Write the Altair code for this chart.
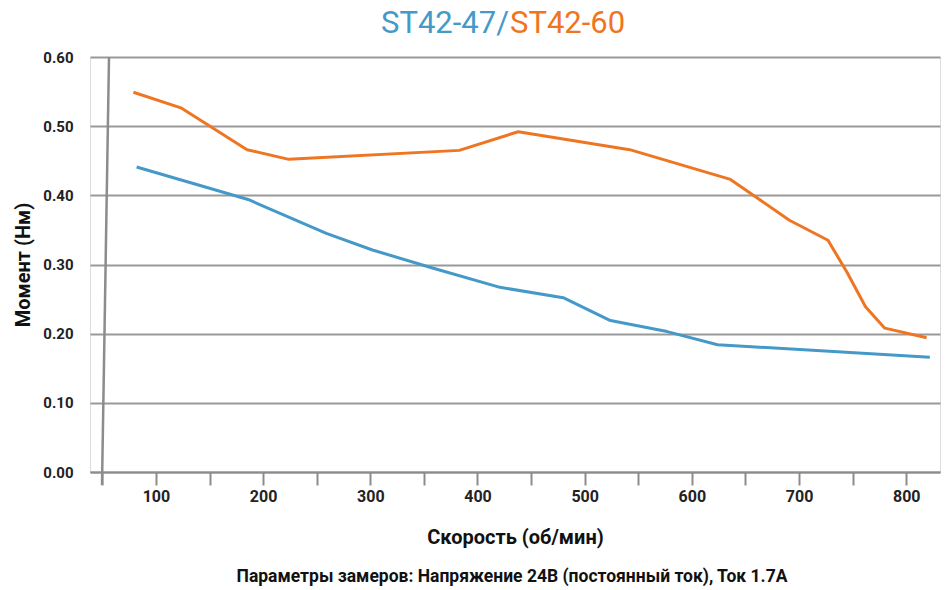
import altair as alt
import pandas as pd

# ---- data ----
st47_speed = [82, 186, 259, 302, 358, 421, 480, 524, 577, 624, 822]
st47_torque = [0.441, 0.394, 0.345, 0.321, 0.295, 0.267, 0.252, 0.219, 0.203, 0.184, 0.166]

st60_speed = [79, 124, 185, 224, 383, 438, 542, 636, 691, 727, 745, 762, 780, 819]
st60_torque = [0.549, 0.526, 0.466, 0.452, 0.465, 0.492, 0.466, 0.423, 0.364, 0.335, 0.288, 0.239, 0.208, 0.194]

series_names = ["ST42-47", "ST42-60"]
series_colors = ["#4599c9", "#ee7623"]

x_ticks = list(range(50, 801, 50))
y_ticks = [0.0, 0.1, 0.2, 0.3, 0.4, 0.5, 0.6]

title_parts = ["ST42-47/", "ST42-60"]
x_title = "Скорость (об/мин)"
y_title = "Момент (Нм)"
subtitle = "Параметры замеров: Напряжение  24В (постоянный ток), Ток 1.7А"

df = pd.DataFrame({
    "speed": st47_speed + st60_speed,
    "torque": st47_torque + st60_torque,
    "series": [series_names[0]] * len(st47_speed) + [series_names[1]] * len(st60_speed),
})

W, H = 850, 415
FONT = "Roboto"
GRAY = "#8c8c8c"

x_scale = alt.Scale(domain=[38.5, 831.5], nice=False, zero=False)
y_scale = alt.Scale(domain=[0, 0.6], nice=False)

lines = alt.Chart(df).mark_line(strokeWidth=3, strokeJoin="round").encode(
    x=alt.X("speed:Q", scale=x_scale,
            axis=alt.Axis(values=x_ticks, labelExpr="datum.value % 100 == 0 ? datum.label : ''",
                          format="d", grid=False, title=x_title,
                          domainColor=GRAY, domainWidth=2, tickColor=GRAY, tickWidth=2,
                          tickSize=13, labelPadding=3, labelFontSize=16, labelFontWeight="bold",
                          labelColor="#222222", labelFont=FONT,
                          titleFont=FONT, titleFontSize=20, titleFontWeight="bold",
                          titleColor="#111111", titlePadding=23)),
    y=alt.Y("torque:Q", scale=y_scale,
            axis=alt.Axis(values=y_ticks, format=".2f", grid=True, gridColor="#999999",
                          gridWidth=2, domain=False, ticks=False, labelPadding=17,
                          labelFontSize=15, labelFontWeight="bold", labelColor="#222222",
                          labelFont=FONT, title=y_title, titleFont=FONT, titleFontSize=20,
                          titleFontWeight="bold", titleColor="#111111", titlePadding=9)),
    color=alt.Color("series:N", scale=alt.Scale(domain=series_names, range=series_colors),
                    legend=None),
    detail="series:N",
)

one = pd.DataFrame({"k": [0]})

# slanted y axis line (decoration)
yline = alt.Chart(one).mark_rule(color=GRAY, strokeWidth=2.5).encode(
    x=alt.value(19), y=alt.value(0), x2=alt.value(12), y2=alt.value(H + 13)
)

title_blue = alt.Chart(pd.DataFrame({"t": [title_parts[0]]})).mark_text(
    font=FONT, fontSize=31, align="right", baseline="middle", color=series_colors[0]
).encode(text="t:N", x=alt.value(419), y=alt.value(-33))

title_orange = alt.Chart(pd.DataFrame({"t": [title_parts[1]]})).mark_text(
    font=FONT, fontSize=31, align="left", baseline="middle", color=series_colors[1]
).encode(text="t:N", x=alt.value(420), y=alt.value(-33))

sub = alt.Chart(pd.DataFrame({"t": [subtitle]})).mark_text(
    font=FONT, fontSize=17.5, fontWeight="bold", align="center", baseline="middle", color="#111111"
).encode(text="t:N", x=alt.value(422), y=alt.value(520))

chart = alt.layer(lines, yline, title_blue, title_orange, sub).properties(
    width=W, height=H,
    autosize=alt.AutoSizeParams(type="none"),
    padding={"left": 82, "top": 49, "right": 3, "bottom": 117},
).configure_view(stroke=None).configure(background="white")

chart.save("out.html", embed_options={"renderer": "svg", "actions": False})
